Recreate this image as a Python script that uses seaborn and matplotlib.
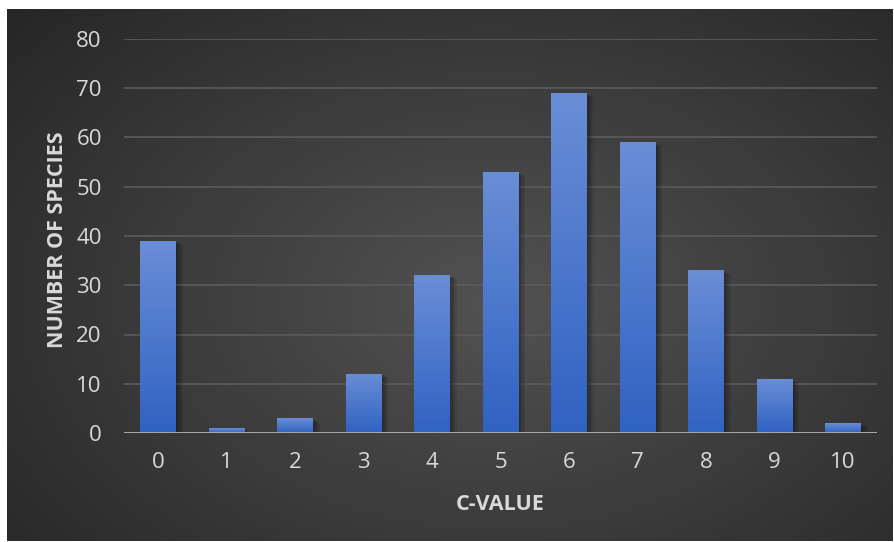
import numpy as np
import pandas as pd
import matplotlib
matplotlib.use("Agg")
import matplotlib.pyplot as plt
import matplotlib.patheffects as pe
from matplotlib.colors import LinearSegmentedColormap
import seaborn as sns

# Data
c_values = ["0", "1", "2", "3", "4", "5", "6", "7", "8", "9", "10"]
species_counts = [39, 1, 3, 12, 32, 53, 69, 59, 33, 11, 2]
y_ticks = [0, 10, 20, 30, 40, 50, 60, 70, 80]

df = pd.DataFrame({"c_value": c_values, "count": species_counts})

sns.set_theme(style="white")
plt.rcParams["font.family"] = ["Open Sans", "DejaVu Sans"]

W, H = 894, 542
fig = plt.figure(figsize=(W / 100, H / 100), dpi=100)
fig.patch.set_facecolor("white")

# Dark radial-gradient panel behind the chart
bg = fig.add_axes([7 / W, 1 / H, (893 - 7) / W, (541 - 9) / H], zorder=-2)
yy, xx = np.mgrid[0:1:400j, 0:1:600j]
r = np.sqrt(((xx - 0.55) / 0.75) ** 2 + ((yy - 0.45) / 0.85) ** 2)
r = np.clip(r, 0, 1)
bg_cmap = LinearSegmentedColormap.from_list("bg", ["#525252", "#3c3c3c", "#262626"])
bg.imshow(r, cmap=bg_cmap, aspect="auto", extent=[0, 1, 0, 1], origin="lower")
bg.set_axis_off()

# Main plotting area
left, right, top, base = 124, 877, 39, 433
ax = fig.add_axes([left / W, (H - base) / H, (right - left) / W, (base - top) / H])
ax.patch.set_alpha(0)

sns.barplot(data=df, x="c_value", y="count", color="#4472c4", width=0.52,
            ax=ax, zorder=3)

ax.set_ylim(0, 80)
ax.set_xlim(-0.5, len(c_values) - 0.5)
ax.set_yticks(y_ticks)

# Gridlines
for v in y_ticks[1:]:
    ax.axhline(v, color="#595959", lw=1.3, zorder=1)
ax.axhline(0, color="#a6a6a6", lw=2.2, zorder=5)

# Gradient fill for each bar with a soft shadow
bar_cmap = LinearSegmentedColormap.from_list("bar", ["#3062c2", "#6a8ed6"])
grad = np.linspace(0, 1, 256).reshape(-1, 1)
shadow = [pe.SimplePatchShadow(offset=(o, -o * 0.5), shadow_rgbFace="black", alpha=0.08)
          for o in (1, 2, 3, 4, 5)]
for p in list(ax.patches):
    x0, w, h = p.get_x(), p.get_width(), p.get_height()
    p.set_facecolor("none")
    p.set_edgecolor("none")
    sh = plt.Rectangle((x0, 0), w, h, facecolor="black", edgecolor="none",
                       alpha=0.0, zorder=2)
    ax.add_patch(sh)
    sh.set_path_effects(shadow)
    im = ax.imshow(grad, cmap=bar_cmap, aspect="auto", origin="lower",
                   extent=[x0, x0 + w, 0, h], zorder=3)
    im.set_clip_path(p)

ax.set_ylim(0, 80)
ax.set_xlim(-0.5, len(c_values) - 0.5)

for s in ax.spines.values():
    s.set_visible(False)

ax.tick_params(axis="both", length=0, labelsize=16, colors="#d9d9d9")
ax.tick_params(axis="y", pad=16)
ax.tick_params(axis="x", pad=14)

ax.set_xlabel("C-VALUE", fontsize=15.5, fontweight="bold", color="#d9d9d9", labelpad=15)
ax.set_ylabel("NUMBER OF SPECIES", fontsize=15.5, fontweight="bold", color="#d9d9d9",
              labelpad=6)
ax.yaxis.label.set_y(0.49)

fig.savefig("out.png", dpi=100, facecolor=fig.get_facecolor())
